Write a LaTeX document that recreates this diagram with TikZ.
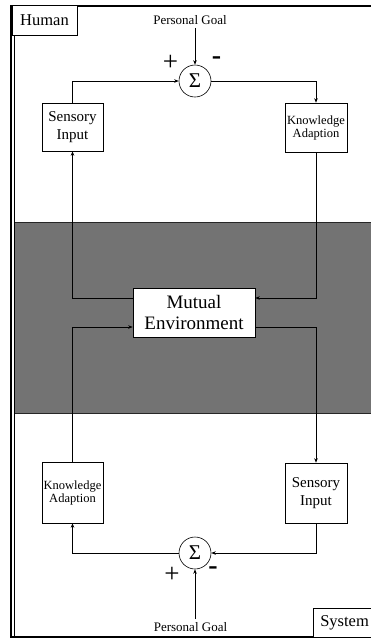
\documentclass[tikz,border=0pt]{standalone}
\usepackage{fontspec}
\setmainfont{Liberation Serif}
\usetikzlibrary{arrows.meta,calc}
\tikzset{
  box/.style={draw, line width=0.6pt, fill=white, align=center, inner sep=0pt},
  conn/.style={line width=0.6pt, -{Stealth[length=4.5pt,width=3.5pt]}},
  sumnode/.style={draw, circle, line width=0.6pt, fill=white, minimum size=32pt, inner sep=0pt, font=\fontsize{21}{21}\selectfont},
  lbl/.style={inner sep=0pt},
}
\begin{document}
\begin{tikzpicture}[x=1pt,y=-1pt]
\useasboundingbox (0,0) rectangle (370,638);
% mutual environment band
\fill[black!55] (14,222) rectangle (372,413);
\draw[line width=1pt, black!85] (14,222) -- (372,222);
\draw[line width=1pt, black!85] (14,413) -- (372,413);
% outer frame
\draw[line width=1.6pt] (11,638) -- (11,6) -- (372,6);
\draw[line width=0.6pt] (14.5,7) -- (14.5,637);
\draw[line width=1.3pt] (11,637) -- (372,637);
% corner labels
\node[box, minimum width=65pt, minimum height=30pt, font=\fontsize{16.5}{16.5}\selectfont] (human) at (44.5,20) {Human};
\node[box, anchor=west, minimum height=29pt, minimum width=62pt, inner xsep=0pt, font=\fontsize{16.5}{16.5}\selectfont] (system) at (313,622.5) {\hspace*{7pt}System\hspace*{8pt}};
% top loop
\node[lbl, font=\fontsize{13}{13}\selectfont] (goalTop) at (190,20) {Personal Goal};
\node[sumnode] (sumTop) at (195,81) {Σ};
\node[lbl, font=\fontsize{27}{27}\selectfont] (plusTop) at (170.5,62.5) {+};
\node[lbl, font=\fontsize{28}{28}\selectfont\bfseries] (minusTop) at (216.5,61) {-};
\node[box, minimum width=61pt, minimum height=48pt, font=\fontsize{15}{18}\selectfont] (siTop) at (72.5,127) {Sensory\\Input};
\node[box, minimum width=62pt, minimum height=49pt, font=\fontsize{12.5}{13}\selectfont] (kaTop) at (316,127.5) {Knowledge\\Adaption};
% environment
\node[box, minimum width=122pt, minimum height=49pt, font=\fontsize{19}{21}\selectfont] (env) at (194,312.5) {Mutual\\Environment};
% bottom loop
\node[box, minimum width=61pt, minimum height=61pt, font=\fontsize{12.5}{13}\selectfont] (kaBot) at (72.5,492.5) {Knowledge\\Adaption};
\node[box, minimum width=62pt, minimum height=60pt, font=\fontsize{15}{18}\selectfont] (siBot) at (316,493) {Sensory\\Input};
\node[sumnode] (sumBot) at (195,553) {Σ};
\node[lbl, font=\fontsize{27}{27}\selectfont] (plusBot) at (172,575) {+};
\node[lbl, font=\fontsize{28}{28}\selectfont\bfseries] (minusBot) at (213,571) {-};
\node[lbl, font=\fontsize{13}{13}\selectfont] (goalBot) at (190.5,627) {Personal Goal};
% coordinates for goal arrows
\coordinate (gtStart) at ($(sumTop.north |- goalTop.south)+(0,3)$);
\coordinate (gbStart) at ($(sumBot.south |- goalBot.north)+(0,-3)$);
% connectors top
\draw[conn] (gtStart) -- (sumTop.north);
\draw[conn] (siTop.north) |- (sumTop.west);
\draw[conn] (sumTop.east) -| (kaTop.north);
% connectors to/from environment
\draw[conn] ([yshift=14.5pt]env.west) -| (siTop.south);
\draw[conn] (kaBot.north) |- ([yshift=-14.5pt]env.west);
\draw[conn] (kaTop.south) |- ([yshift=14.5pt]env.east);
\draw[conn] ([yshift=-14.5pt]env.east) -| (siBot.north);
% connectors bottom
\draw[conn] (siBot.south) |- (sumBot.east);
\draw[conn] (sumBot.west) -| (kaBot.south);
\draw[conn] (gbStart) -- (sumBot.south);
\end{tikzpicture}
\end{document}
